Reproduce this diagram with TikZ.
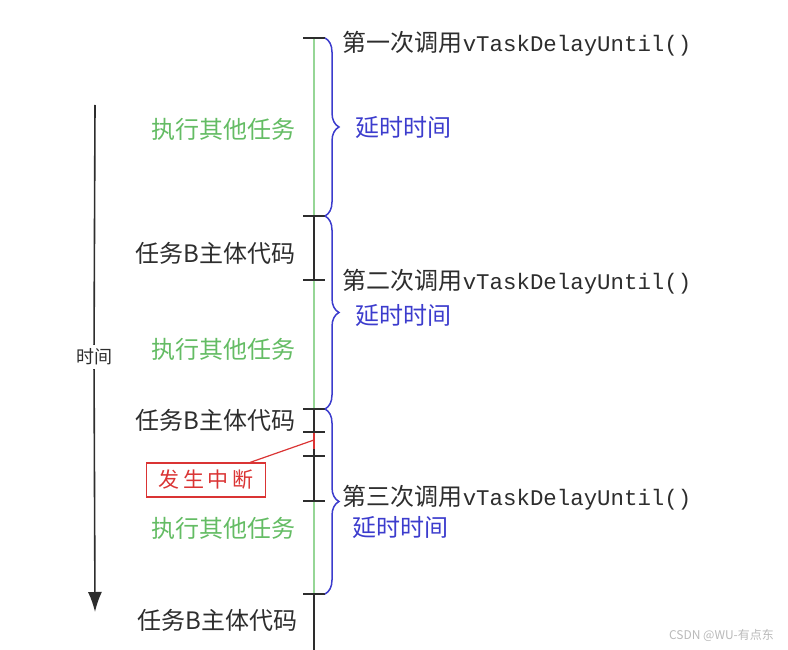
\documentclass[tikz,border=0pt]{standalone}
\usepackage{fontspec}
\setmainfont{Noto Sans CJK SC}
\setmonofont{Liberation Mono}
\usepackage{tikz}
\usetikzlibrary{arrows.meta,decorations.pathreplacing}
\definecolor{lngreen}{RGB}{150,214,150}
\definecolor{txgreen}{RGB}{100,188,100}
\definecolor{txblue}{RGB}{60,60,205}
\definecolor{txred}{RGB}{218,52,52}
\definecolor{txgray}{RGB}{45,45,45}
\newcommand\apicall{{\ttfamily\fontsize{22.4}{24}\selectfont vTaskDelayUntil()}}

\begin{document}
\begin{tikzpicture}[x=1pt,y=-1pt,>=Latex,line width=1.6pt,
    lbl/.style={font=\fontsize{24}{26}\selectfont,inner sep=0pt},
    brc/.style={draw=txblue,line width=1.5pt,decorate,decoration={brace,amplitude=14pt}}]
    \useasboundingbox (0,0) rectangle (788,650);
    % time axis
    \coordinate (ttop) at (95,105);
    \coordinate (tbot) at (95,612);
    \node[font=\fontsize{18}{20}\selectfont,text=txgray,inner sep=3pt] (time) at (94,357) {时间};
    \draw[txgray] (ttop) -- (time);
    \draw[-{Latex[length=20pt,width=14pt]},txgray] (time) -- (tbot);
    % points on the task line
    \coordinate (t1) at (314,38);
    \coordinate (t2) at (314,216);
    \coordinate (t3) at (314,280);
    \coordinate (t4) at (314,409);
    \coordinate (t5) at (314,432);
    \coordinate (hit) at (314,440);
    \coordinate (irqend) at (314,449);
    \coordinate (t6) at (314,456);
    \coordinate (t7) at (314,501);
    \coordinate (t8) at (314,594);
    \coordinate (tend) at (314,650);
    \draw[lngreen] (t1) -- (t2);
    \draw[txgray] (t2) -- (t3);
    \draw[lngreen] (t3) -- (t4);
    \draw[txgray] (t4) -- (t5);
    \draw[txred] (t5) -- (irqend);
    \draw[txgray] (irqend) -- (t6) -- (t7);
    \draw[lngreen] (t7) -- (t8);
    \draw[txgray] (t8) -- (tend);
    \foreach \p in {t1,t2,t3,t4,t5,t6,t7,t8}
      \draw[txgray] ([xshift=-11pt]\p) -- ([xshift=11pt]\p);
    % delay braces
    \coordinate (b1) at (325,38);
    \coordinate (b2) at (325,216);
    \coordinate (b3) at (325,409);
    \coordinate (b4) at (325,594);
    \draw[brc] (b1) -- (b2);
    \draw[brc] (b2) -- (b3);
    \draw[brc] (b3) -- (b4);
    % labels
    \node[lbl,anchor=west,text=txgray] (call1) at (342,44) {第一次调用\apicall};
    \node[lbl,anchor=west,text=txgray] (call2) at (342,282) {第二次调用\apicall};
    \node[lbl,anchor=west,text=txgray] (call3) at (342,498) {第三次调用\apicall};
    \node[lbl,anchor=west,text=txblue] (wait1) at (355,128) {延时时间};
    \node[lbl,anchor=west,text=txblue] (wait2) at (355,316) {延时时间};
    \node[lbl,anchor=west,text=txblue] (wait3) at (352,528) {延时时间};
    \node[lbl,anchor=east,text=txgreen] (run1) at (296,129) {执行其他任务};
    \node[lbl,anchor=east,text=txgreen] (run2) at (296,349) {执行其他任务};
    \node[lbl,anchor=east,text=txgreen] (run3) at (296,528) {执行其他任务};
    \node[lbl,anchor=east,text=txgray] (taskb1) at (296,253) {任务B主体代码};
    \node[lbl,anchor=east,text=txgray] (taskb2) at (296,420) {任务B主体代码};
    \node[lbl,anchor=east,text=txgray] (taskb3) at (298,620) {任务B主体代码};
    % interrupt
    \node[draw=txred,line width=1.2pt,text=txred,minimum width=119pt,minimum height=34pt,
      inner sep=0pt,font=\fontsize{21}{23}\selectfont] (irq) at (206,480) {发\,生\,中\,断};
    \draw[txred,line width=1.2pt] ([xshift=-16pt]irq.north east) -- (hit);
    \node[font=\fontsize{12}{14}\selectfont,text=gray!55,anchor=east] (mark) at (778,635) {CSDN @WU-有点东};
\end{tikzpicture}
\end{document}
